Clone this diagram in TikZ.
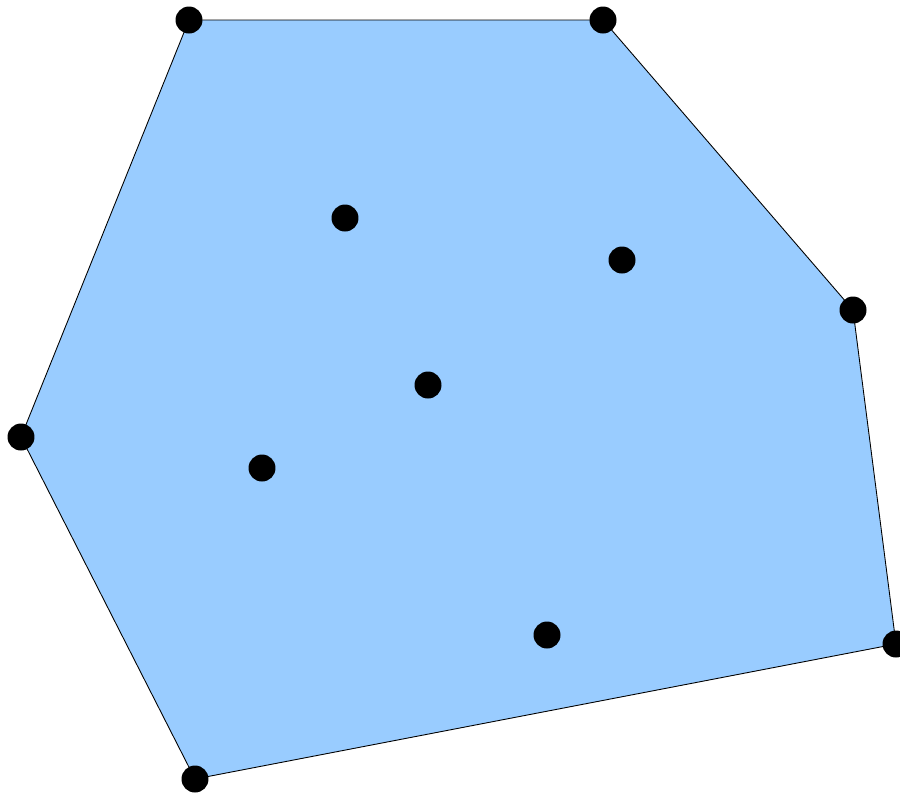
\documentclass[tikz,border=0pt]{standalone}
\definecolor{hullblue}{HTML}{99CCFF}
\tikzset{
  pt/.style={circle,fill=black,inner sep=0pt,minimum size=0.54cm}
}
\begin{document}
\begin{tikzpicture}[x=0.02cm,y=-0.02cm,line width=0.5pt]
  \useasboundingbox (0,0) rectangle (900,792);
  % hull vertices
  \coordinate (h1) at (189,20);
  \coordinate (h2) at (603,20);
  \coordinate (h3) at (853,310);
  \coordinate (h4) at (896,644);
  \coordinate (h5) at (195,779);
  \coordinate (h6) at (21,437);

  % filled hull
  \draw[fill=hullblue] (h1) -- (h2) -- (h3) -- (h4) -- (h5) -- (h6) -- cycle;

  % points on the hull
  \foreach \h in {h1,h2,h3,h4,h5,h6}
    \node[pt] (p\h) at (\h) {};

  % interior points
  \node[pt] (q1) at (345,218) {};
  \node[pt] (q2) at (622,260) {};
  \node[pt] (q3) at (428,385) {};
  \node[pt] (q4) at (262,468) {};
  \node[pt] (q5) at (547,635) {};
\end{tikzpicture}
\end{document}
